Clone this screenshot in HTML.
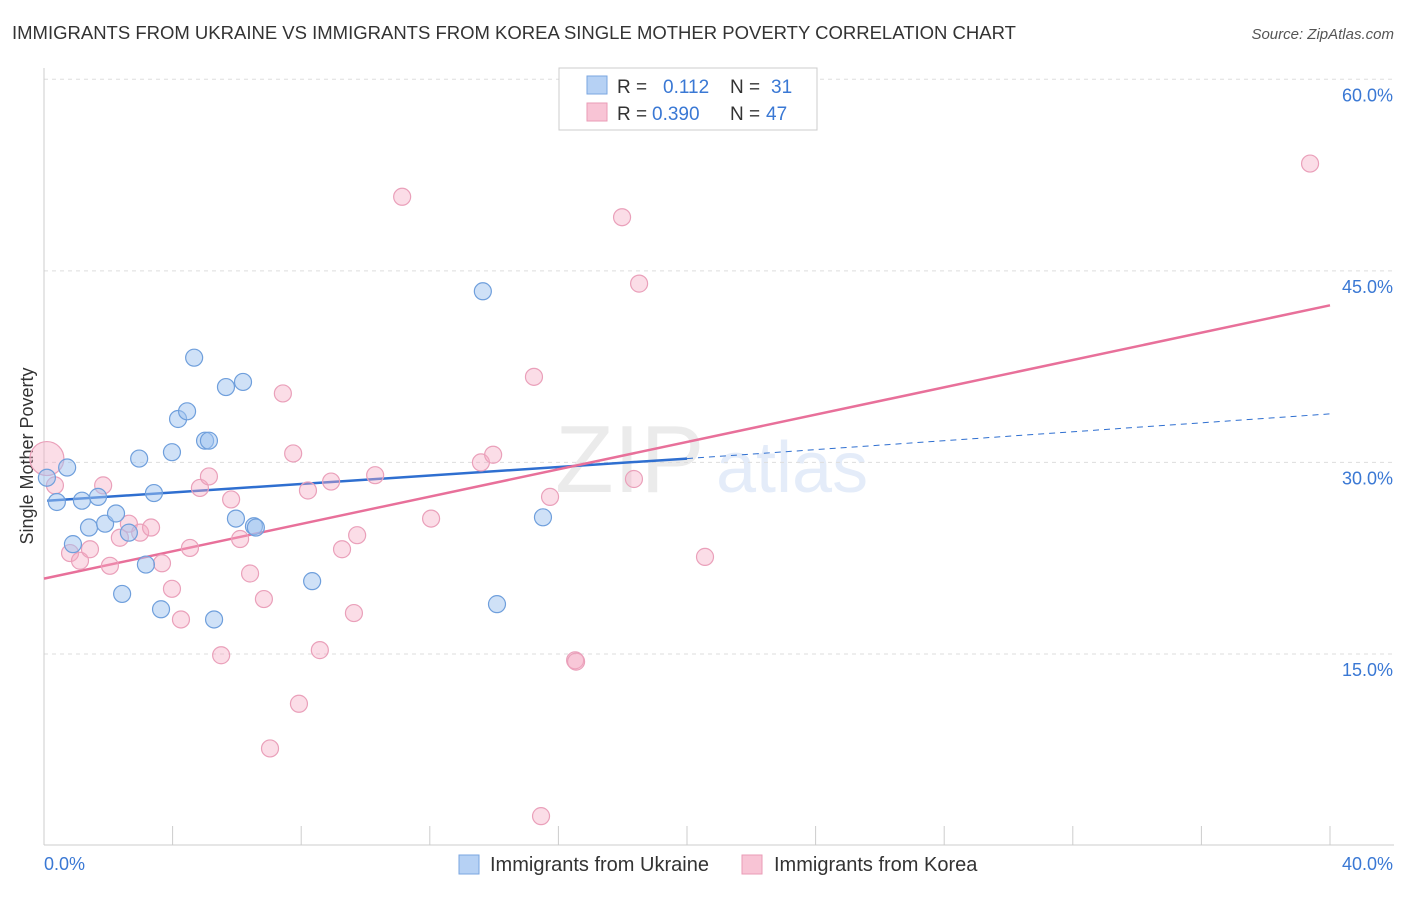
<!DOCTYPE html>
<html><head><meta charset="utf-8"><style>
body{margin:0;background:#fff;font-family:"Liberation Sans",sans-serif;}
svg text{font-family:"Liberation Sans",sans-serif;}
</style></head><body>
<svg id="chart" width="1406" height="892" viewBox="0 0 1406 892">
<text x="12" y="39" font-size="18.5" fill="#333">IMMIGRANTS FROM UKRAINE VS IMMIGRANTS FROM KOREA SINGLE MOTHER POVERTY CORRELATION CHART</text>
<text x="1394" y="39" font-size="15" fill="#555" font-style="italic" text-anchor="end">Source: ZipAtlas.com</text>
<text x="33" y="456" font-size="18" fill="#333" text-anchor="middle" transform="rotate(-90 33 456)">Single Mother Poverty</text>
<g opacity="0.14">
<text x="555" y="492" font-size="96" font-family="Liberation Serif" fill="#777">ZIP</text>
<text x="716" y="492" font-size="72" fill="#4a80d8">atlas</text>
</g>
<g id="grid"></g>
<g id="axes"></g>
<g id="trends"></g>
<g id="points"></g>
<g>
<rect x="559" y="68" width="258" height="62" fill="#fff" stroke="#ccc"/>
<rect x="587" y="76" width="20" height="18" fill="#b6d1f4" stroke="#7aa6e0"/>
<rect x="587" y="103" width="20" height="18" fill="#f8c4d5" stroke="#ea9bb6"/>
<text x="617" y="93" font-size="19" fill="#333">R =</text><text x="663" y="93" font-size="19" fill="#3a78d4">0.112</text>
<text x="730" y="93" font-size="19" fill="#333">N =</text><text x="771" y="93" font-size="19" fill="#3a78d4">31</text>
<text x="617" y="120" font-size="19" fill="#333">R =</text><text x="652" y="120" font-size="19" fill="#3a78d4">0.390</text>
<text x="730" y="120" font-size="19" fill="#333">N =</text><text x="766" y="120" font-size="19" fill="#3a78d4">47</text>
</g>
<g>
<rect x="459" y="855" width="20" height="19" fill="#b6d1f4" stroke="#7aa6e0"/>
<text x="490" y="871" font-size="20" fill="#333">Immigrants from Ukraine</text>
<rect x="742" y="855" width="20" height="19" fill="#f8c4d5" stroke="#ea9bb6"/>
<text x="774" y="871" font-size="20" fill="#333">Immigrants from Korea</text>
</g>
</svg>
<script>
const yTicks=[15,30,45,60];
const yTickLabels=["15.0%","30.0%","45.0%","60.0%"];
const xTicks=[0,4,8,12,16,20,24,28,32,36,40];
const xEndLabels=["0.0%","40.0%"];
const ukraineX=[0.09,0.40,0.72,0.90,1.18,1.40,1.68,1.90,2.24,2.43,2.64,2.96,3.17,3.42,3.64,3.98,4.17,4.45,4.67,5.01,5.13,5.29,5.66,5.97,6.19,6.53,6.59,8.34,13.65,14.09,15.52];
const ukraineY=[28.8,26.9,29.6,23.6,27.0,24.9,27.3,25.2,26.0,19.7,24.5,30.3,22.0,27.6,18.5,30.8,33.4,34.0,38.2,31.7,31.7,17.7,35.9,25.6,36.3,25.0,24.9,20.7,43.4,18.9,25.7];
const koreaX=[0.09,0.34,0.81,1.12,1.43,1.84,2.05,2.36,2.64,2.99,3.33,3.67,3.98,4.26,4.54,4.85,5.13,5.51,5.82,6.10,6.41,6.84,7.03,7.43,7.75,7.93,8.21,8.58,8.93,9.27,9.64,9.74,10.30,11.14,12.04,13.59,13.97,15.24,15.46,15.74,16.52,16.55,17.98,18.35,18.51,20.56,39.38];
const koreaY=[30.3,28.2,22.9,22.3,23.2,28.2,21.9,24.1,25.2,24.5,24.9,22.1,20.1,17.7,23.3,28.0,28.9,14.9,27.1,24.0,21.3,19.3,7.6,35.4,30.7,11.1,27.8,15.3,28.5,23.2,18.2,24.3,29.0,50.8,25.6,30.0,30.6,36.7,2.3,27.3,14.5,14.4,49.2,28.7,44.0,22.6,53.4];
const ukraineTrend=[27.0,30.3,33.8]; // at x=0,20,40
const koreaTrend=[20.9,42.3]; // at x=0,40

const NS="http://www.w3.org/2000/svg";
const X=v=>44+v*32.15;
const Y=v=>845.5-v*12.77;
function mk(tag,attrs,parent){const e=document.createElementNS(NS,tag);for(const k in attrs)e.setAttribute(k,attrs[k]);parent.appendChild(e);return e;}
const grid=document.getElementById('grid'),axes=document.getElementById('axes'),trends=document.getElementById('trends'),pts=document.getElementById('points');
yTicks.forEach((t,i)=>{
  const l=mk('line',{x1:44,x2:1394,y1:Y(t),y2:Y(t),stroke:'#ddd','stroke-dasharray':'4,4'},grid);
  
  
  const tx=mk('text',{x:1393,y:Y(t)+22,'font-size':18,fill:'#3a78d4','text-anchor':'end'},axes);
  tx.textContent=yTickLabels[i];
  
  
});
const ax=mk('line',{x1:44,x2:44,y1:68,y2:845,stroke:'#ccc'},axes);


const bx=mk('line',{x1:44,x2:1394,y1:845,y2:845,stroke:'#ccc'},axes);


xTicks.forEach(t=>{
  const l=mk('line',{x1:X(t),x2:X(t),y1:826,y2:845,stroke:'#ccc'},axes);
  
  
});
[[0,'start',44],[40,'end',1393]].forEach((d,i)=>{
  const tx=mk('text',{x:d[2],y:870,'font-size':18,fill:'#3a78d4','text-anchor':d[1]},axes);
  tx.textContent=xEndLabels[i];
  
  
});
let t1=mk('line',{x1:X(0.1),y1:Y(ukraineTrend[0]),x2:X(20),y2:Y(ukraineTrend[1]),stroke:'#2f6fd0','stroke-width':2.5},trends);


let t2=mk('line',{x1:X(20),y1:Y(ukraineTrend[1]),x2:X(40),y2:Y(ukraineTrend[2]),stroke:'#2f6fd0','stroke-width':1,'stroke-dasharray':'6,5'},trends);


let t3=mk('line',{x1:X(0),y1:Y(koreaTrend[0]),x2:X(40),y2:Y(koreaTrend[1]),stroke:'#e8709a','stroke-width':2.5},trends);


koreaX.forEach((x,i)=>{
  const c=mk('circle',{cx:X(x),cy:Y(koreaY[i]),r:i===0?17:8.5,fill:'rgba(245,170,196,0.4)',stroke:'#eaa0ba','stroke-width':1.2},pts);
  
  
});
ukraineX.forEach((x,i)=>{
  const c=mk('circle',{cx:X(x),cy:Y(ukraineY[i]),r:8.5,fill:'rgba(160,195,240,0.5)',stroke:'#6f9fdc','stroke-width':1.2},pts);
  
  
});
</script>
</body></html>
